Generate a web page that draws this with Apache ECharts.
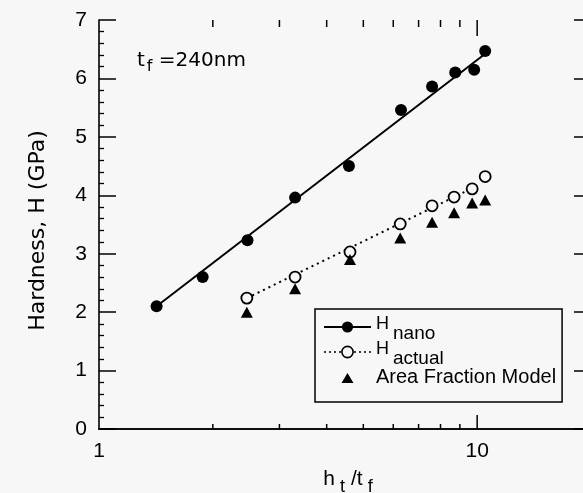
<!DOCTYPE html>
<html>
<head>
<meta charset="utf-8">
<script src="https://cdn.jsdelivr.net/npm/echarts@6/dist/echarts.min.js"></script>
<style>
html,body{margin:0;padding:0;background:#f7f7f7;}
#c{width:583px;height:493px;}
</style>
</head>
<body>
<div id="c"></div>
<script>
// ---- data ----
const nanoX = [1.42, 1.88, 2.47, 3.30, 4.58, 6.29, 7.60, 8.75, 9.82, 10.5];
const nanoY = [2.10, 2.60, 3.23, 3.96, 4.50, 5.46, 5.86, 6.10, 6.15, 6.47];
const nanoFitX = [1.42, 10.4];
const nanoFitY = [2.10, 6.40];

const actualX = [2.46, 3.30, 4.61, 6.26, 7.60, 8.69, 9.70, 10.5];
const actualY = [2.24, 2.60, 3.03, 3.51, 3.82, 3.97, 4.11, 4.32];
const actualFitX = [2.46, 9.70];
const actualFitY = [2.24, 4.12];

const afmX = [2.46, 3.30, 4.61, 6.26, 7.60, 8.69, 9.70, 10.5];
const afmY = [2.00, 2.40, 2.90, 3.27, 3.54, 3.70, 3.87, 3.92];

const xLabelValues = [1, 10];
const xMinorTicks = [2, 3, 4, 5, 6, 7, 8, 9, 20];
const xMajorTicks = [10];

const BG = '#f7f7f7';
const zip = (a, b) => a.map((v, i) => [v, b[i]]);
const noSym = (a, b) => a.map((v, i) => ({ value: [v, b[i]], symbol: 'none' }));

const chart = echarts.init(document.getElementById('c'), null, { renderer: 'canvas' });

const tickData = xMinorTicks.map(v => [v, 0]).concat(xMajorTicks.map(v => [v, 1]));

// legend triangle icon: padded path so the triangle keeps its shape inside the 47x14 icon box
const triIcon = 'path://M0,0L0,0.01L0.01,0Z M17.5,13L23.5,3L29.5,13Z M47,14L47,13.99L46.99,14Z';

const LH = 32;
const option = {
  backgroundColor: BG,
  animation: false,
  grid: { left: 99, top: 20, width: 492, height: 409, outerBoundsMode: 'none', containLabel: false },
  xAxis: [
    {
      type: 'log', logBase: 10, min: 1, max: 20, position: 'bottom',
      axisLine: { lineStyle: { color: '#000', width: 1.6 } },
      axisTick: { show: false }, minorTick: { show: false }, splitLine: { show: false },
      axisLabel: {
        color: '#000', fontFamily: 'Liberation Sans', fontSize: 21, margin: 12,
        formatter: v => (xLabelValues.indexOf(Math.round(v)) >= 0 && Math.abs(v - Math.round(v)) < 1e-6) ? String(Math.round(v)) : ''
      },
      name: '{m|h}{s|t}{m|/t}{s|f}', nameLocation: 'middle', nameGap: 40,
      nameTextStyle: {
        color: '#000', fontFamily: 'Liberation Sans',
        rich: {
          m: { fontSize: 21, fontFamily: 'Liberation Sans', color: '#000', verticalAlign: 'top', padding: [0, 0, 0, 6] },
          s: { fontSize: 18, fontFamily: 'Liberation Sans', color: '#000', verticalAlign: 'top', padding: [9, 0, 0, 5] }
        }
      }
    },
    {
      type: 'log', logBase: 10, min: 1, max: 20, position: 'top',
      axisLine: { lineStyle: { color: '#000', width: 1.6 } },
      axisTick: { show: false }, minorTick: { show: false }, splitLine: { show: false },
      axisLabel: { show: false }
    }
  ],
  yAxis: [
    {
      type: 'value', min: 0, max: 7, interval: 1, position: 'left',
      axisLine: { show: true, lineStyle: { color: '#000', width: 1.6 } },
      axisTick: { show: true, inside: true, length: 17, lineStyle: { color: '#000', width: 1.5 } },
      minorTick: { show: true, splitNumber: 5, length: 5, lineStyle: { color: '#000', width: 1.3 } },
      splitLine: { show: false },
      axisLabel: { color: '#000', fontFamily: 'Liberation Sans', fontSize: 21, margin: 12 },
      name: 'Hardness, H (GPa)', nameLocation: 'middle', nameRotate: 90, nameGap: 50,
      nameTextStyle: { color: '#000', fontFamily: 'DejaVu Sans', fontSize: 22, padding: [0, 12, 0, 0] }
    },
    {
      type: 'value', min: 0, max: 7, interval: 1, position: 'right',
      axisLine: { show: true, lineStyle: { color: '#000', width: 1.6 } },
      axisTick: { show: true, inside: true, length: 17, lineStyle: { color: '#000', width: 1.5 } },
      minorTick: { show: true, splitNumber: 5, length: 5, lineStyle: { color: '#000', width: 1.3 } },
      splitLine: { show: false },
      axisLabel: { show: false }
    }
  ],
  legend: {
    orient: 'vertical', left: 315, top: 309,
    backgroundColor: BG, borderColor: '#000', borderWidth: 1.5, borderRadius: 0,
    padding: [2, 6, 9, 8], itemWidth: 47, itemHeight: 14, itemGap: -7,
    data: [
      { name: 'nano', itemStyle: { color: '#000', borderWidth: 0 }, lineStyle: { color: '#000', width: 2, type: 'solid' } },
      { name: 'actual', itemStyle: { color: BG, borderColor: '#000', borderWidth: 1.6 }, lineStyle: { color: '#000', width: 1.6, type: [2, 3] } },
      { name: 'afm', icon: triIcon, itemStyle: { color: '#000', borderWidth: 0 } }
    ],
    formatter: n => n === 'nano' ? '{h|H}{s|nano}' : n === 'actual' ? '{h|H}{s|actual}' : '{a|Area Fraction Model}',
    textStyle: {
      color: '#000', fontFamily: 'Liberation Sans', fontSize: 19, lineHeight: LH,
      rich: {
        h: { fontSize: 18, fontFamily: 'Liberation Sans', color: '#000', lineHeight: LH, verticalAlign: 'top', padding: [4, 4, 0, 0] },
        s: { fontSize: 19, fontFamily: 'Liberation Sans', color: '#000', lineHeight: LH, verticalAlign: 'bottom' },
        a: { fontSize: 20, fontFamily: 'Liberation Sans', color: '#000', lineHeight: LH }
      }
    }
  },
  graphic: [
    {
      type: 'text', left: 137, top: 51,
      style: {
        text: '{m|t}{s|f}{m| =240nm}',
        rich: {
          m: { fontSize: 20, fontFamily: 'DejaVu Sans', fill: '#000', verticalAlign: 'top', lineHeight: 18 },
          s: { fontSize: 16, fontFamily: 'DejaVu Sans', fill: '#000', verticalAlign: 'top', lineHeight: 18, padding: [8, 0, 0, 2] }
        }
      }
    }
  ],
  series: [
    {
      name: 'nano', type: 'line', xAxisIndex: 0, yAxisIndex: 0,
      symbol: 'circle', symbolSize: 12,
      data: noSym(nanoFitX, nanoFitY),
      lineStyle: { color: '#000', width: 2 }, itemStyle: { color: '#000' }, z: 3
    },
    {
      name: 'actual', type: 'line', xAxisIndex: 0, yAxisIndex: 0,
      symbol: 'circle', symbolSize: 11,
      data: noSym(actualFitX, actualFitY),
      lineStyle: { color: '#000', width: 2, type: [2, 4] },
      itemStyle: { color: BG, borderColor: '#000', borderWidth: 1.6 }, z: 3
    },
    {
      name: 'nanoPts', type: 'scatter', symbol: 'circle', symbolSize: 12,
      data: zip(nanoX, nanoY), itemStyle: { color: '#000', opacity: 1 }, z: 5
    },
    {
      name: 'actualPts', type: 'scatter', symbol: 'circle', symbolSize: 11,
      data: zip(actualX, actualY), itemStyle: { color: BG, borderColor: '#000', borderWidth: 1.8, opacity: 1 }, z: 5
    },
    {
      name: 'afm', type: 'scatter', symbol: 'triangle', symbolSize: [12, 11],
      data: zip(afmX, afmY), itemStyle: { color: '#000', opacity: 1 }, z: 5
    },
    {
      name: 'xticks', type: 'custom', xAxisIndex: 0, yAxisIndex: 0, silent: true,
      data: tickData, z: 10,
      renderItem: (params, api) => {
        const x = api.value(0), major = api.value(1);
        const b = api.coord([x, 0]);
        const t = api.coord([x, 7]);
        const len = major ? 14 : 5;
        const st = { stroke: '#000', lineWidth: 1.5 };
        return {
          type: 'group', children: [
            { type: 'line', shape: { x1: b[0], y1: b[1], x2: b[0], y2: b[1] - len }, style: st },
            { type: 'line', shape: { x1: t[0], y1: t[1], x2: t[0], y2: t[1] + len + 2 }, style: st }
          ]
        };
      }
    }
  ]
};
chart.setOption(option);
</script>
</body>
</html>
